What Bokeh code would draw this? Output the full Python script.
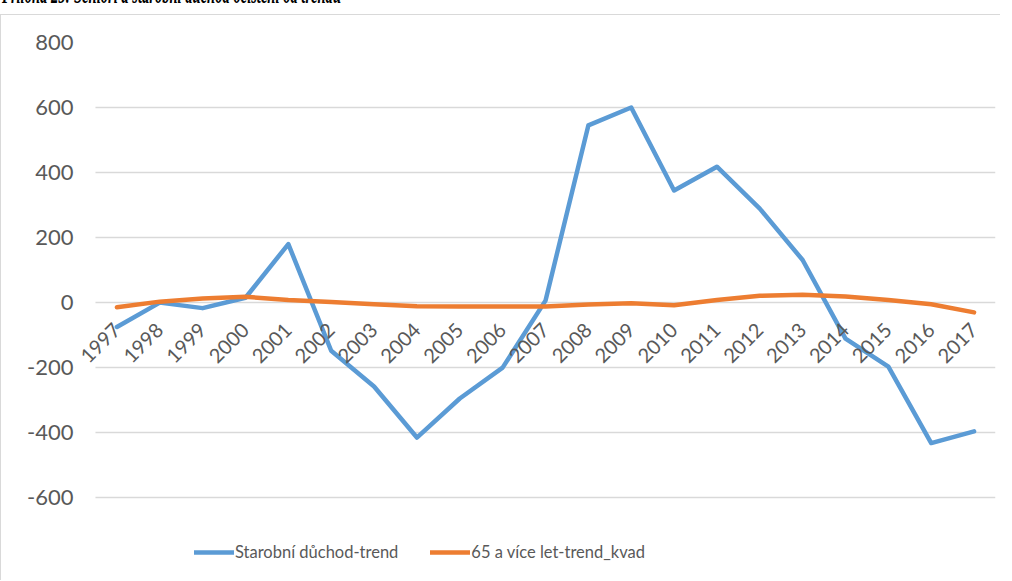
from math import pi
from bokeh.plotting import figure
from bokeh.models import Range1d, FixedTicker, Legend, LegendItem, Div, BoxAnnotation
from bokeh.layouts import column
from bokeh.embed import file_html
from bokeh.resources import INLINE

years = [str(y) for y in range(1997, 2018)]
duchod_trend = [-75, 0, -17, 15, 180, -148, -258, -415, -295, -200, 6,
                545, 600, 345, 418, 289, 131, -111, -197, -432, -396]
senior_trend_kvad = [-14, 3, 13, 18, 8, 2, -5, -11, -12, -12, -12,
                     -6, -2, -8, 8, 21, 24, 19, 8, -5, -30]
y_ticks = [-600, -400, -200, 0, 200, 400, 600, 800]
title_text = "Příloha 25: Senioři a starobní důchod očištění od trendu"
series_names = ["Starobní důchod-trend", "65 a více let-trend_kvad"]

FONT = "Lato"
GRAY = "#595959"

# category slots: each year occupies one unit, centred at i + 0.5
x_pos = [i + 0.5 for i in range(len(years))]

title_div = Div(
    text=('<div style="position:relative; top:-27px; left:-3px; font-family:\'Liberation Serif\';'
          ' font-weight:bold; font-style:italic; font-size:28px; line-height:1.15; white-space:nowrap; color:#000;'
          ' transform:scaleX(0.52); transform-origin:left top;">' + title_text + '</div>'),
    width=1000, height=4, styles={"overflow": "visible"})

p = figure(width=1000, height=566, x_range=Range1d(-0.466, len(years)),
           y_range=Range1d(-827, 800),
           output_backend="svg", toolbar_location=None,
           min_border_left=74, min_border_right=6, min_border_top=27, min_border_bottom=10,
           styles={"border-left": "1px solid #D9D9D9", "border-top": "1px solid #D9D9D9"})
p.outline_line_color = None
p.background_fill_color = "white"
p.border_fill_color = "white"

p.xgrid.grid_line_color = None
p.ygrid.grid_line_color = "#D9D9D9"
p.ygrid.grid_line_width = 1.3
# plot area (gridlines) begins at the first category slot
p.add_layout(BoxAnnotation(left=-1, right=0, fill_color="white", fill_alpha=1,
                           line_color=None, level="underlay"))

p.yaxis.ticker = FixedTicker(ticks=y_ticks)
p.yaxis.major_label_overrides = {t: str(t) for t in y_ticks}
p.yaxis.axis_line_color = None
p.yaxis.major_tick_line_color = None
p.yaxis.minor_tick_line_color = None
p.yaxis.major_tick_out = 0
p.yaxis.major_label_standoff = 2
p.yaxis.major_label_text_font = FONT
p.yaxis.major_label_text_font_size = "22px"
p.yaxis.major_label_text_color = GRAY

p.xaxis.fixed_location = 0
p.xaxis.ticker = FixedTicker(ticks=x_pos)
p.xaxis.major_label_overrides = dict(zip(x_pos, years))
p.xaxis.axis_line_color = None
p.xaxis.major_tick_line_color = None
p.xaxis.minor_tick_line_color = None
p.xaxis.major_tick_out = 0
p.xaxis.major_label_orientation = pi / 4
p.xaxis.major_label_standoff = 24
p.xaxis.major_label_text_font = FONT
p.xaxis.major_label_text_font_size = "20px"
p.xaxis.major_label_text_color = GRAY

r1 = p.line(x_pos, duchod_trend, line_color="#5B9BD5", line_width=4.5,
            line_join="round", line_cap="round")
r2 = p.line(x_pos, senior_trend_kvad, line_color="#ED7D31", line_width=4.5,
            line_join="round", line_cap="round")

legend = Legend(items=[LegendItem(label=series_names[0], renderers=[r1]),
                       LegendItem(label=series_names[1], renderers=[r2])],
                orientation="horizontal", location=(119, 9),
                glyph_width=40, glyph_height=20, label_height=20,
                label_standoff=1, spacing=32, padding=0, margin=0,
                border_line_color=None, background_fill_alpha=0,
                label_text_font=FONT, label_text_font_size="16.5px",
                label_text_color=GRAY)
p.add_layout(legend, "center")

layout = column(title_div, p, spacing=0)
open("out.html", "w").write(file_html(layout, INLINE))
